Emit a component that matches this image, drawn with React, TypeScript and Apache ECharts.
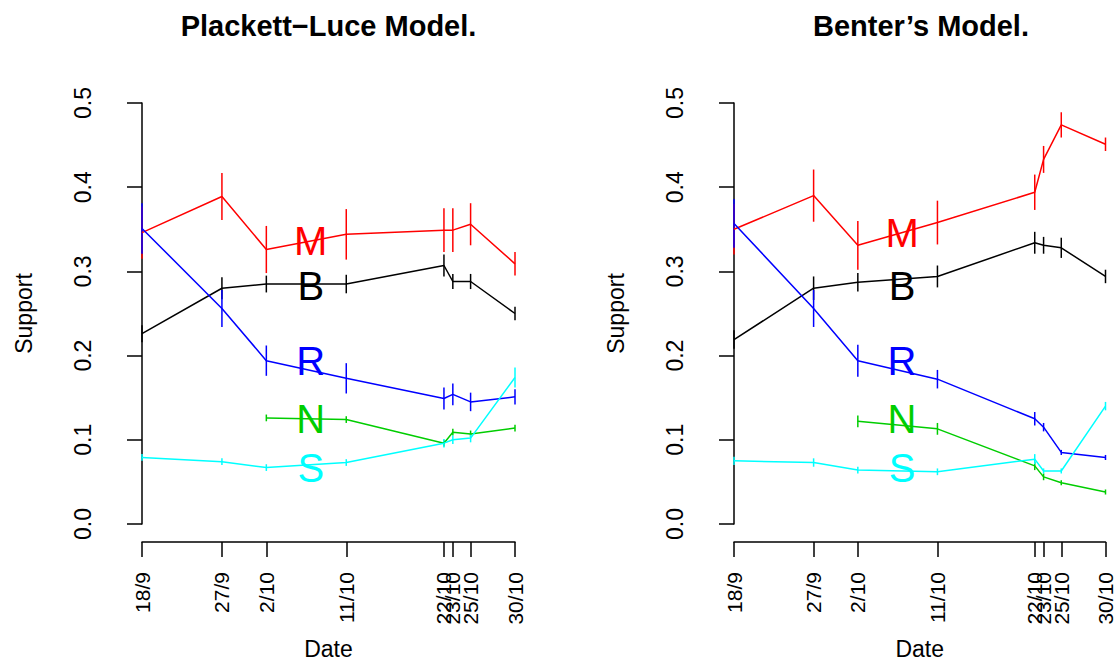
import React, { useEffect, useRef } from "react";
import * as echarts from "echarts";

// ---- data ----
const dateLabels = ["18/9", "27/9", "2/10", "11/10", "22/10", "23/10", "25/10", "30/10"];
const dateDays = [0, 9, 14, 23, 34, 35, 37, 42]; // days since 18/9
const yTickValues = [0, 0.1, 0.2, 0.3, 0.4, 0.5];
const yTickLabels = ["0.0", "0.1", "0.2", "0.3", "0.4", "0.5"];

const partyNames = ["M", "B", "R", "N", "S"];
const partyColors = ["#FF0000", "#000000", "#0000FF", "#00CD00", "#00FFFF"];

// Plackett-Luce model: support estimates and error half-widths
const plM = [0.346, 0.389, 0.326, 0.344, 0.349, 0.349, 0.356, 0.309];
const plMErr = [0.031, 0.028, 0.028, 0.030, 0.026, 0.026, 0.025, 0.014];
const plB = [0.226, 0.280, 0.285, 0.285, 0.307, 0.288, 0.288, 0.250];
const plBErr = [0.010, 0.013, 0.010, 0.011, 0.013, 0.009, 0.009, 0.008];
const plR = [0.351, 0.256, 0.194, 0.173, 0.149, 0.154, 0.145, 0.151];
const plRErr = [0.030, 0.022, 0.018, 0.018, 0.013, 0.013, 0.011, 0.009];
const plN = [null, null, 0.126, 0.124, 0.096, 0.109, 0.107, 0.114];
const plNErr = [null, null, 0.004, 0.004, 0.004, 0.004, 0.004, 0.004];
const plS = [0.079, 0.074, 0.067, 0.073, 0.096, 0.100, 0.102, 0.174];
const plSErr = [0.004, 0.004, 0.004, 0.004, 0.005, 0.005, 0.005, 0.012];

// Benter's model
const bnM = [0.350, 0.390, 0.331, 0.358, 0.394, 0.433, 0.474, 0.451];
const bnMErr = [0.030, 0.031, 0.029, 0.026, 0.021, 0.016, 0.015, 0.008];
const bnB = [0.219, 0.280, 0.287, 0.294, 0.334, 0.331, 0.328, 0.294];
const bnBErr = [0.011, 0.014, 0.011, 0.013, 0.013, 0.010, 0.012, 0.008];
const bnR = [0.357, 0.256, 0.194, 0.172, 0.125, 0.115, 0.085, 0.079];
const bnRErr = [0.029, 0.022, 0.019, 0.011, 0.008, 0.005, 0.003, 0.003];
const bnN = [null, null, 0.122, 0.113, 0.069, 0.056, 0.049, 0.038];
const bnNErr = [null, null, 0.007, 0.007, 0.005, 0.004, 0.003, 0.003];
const bnS = [0.075, 0.073, 0.064, 0.062, 0.077, 0.063, 0.063, 0.140];
const bnSErr = [0.005, 0.005, 0.004, 0.004, 0.006, 0.003, 0.003, 0.005];

// text annotations (data coordinates: day, support)
const labelDay = 19;
const plLabelY = [0.336, 0.283, 0.194, 0.125, 0.066];
const bnLabelY = [0.346, 0.283, 0.194, 0.125, 0.066];

const panelTitles = ["Plackett\u2212Luce Model.", "Benter\u2019s Model."];
const xAxisTitle = "Date";
const yAxisTitle = "Support";

const FONT = "'Liberation Sans', Arial, Helvetica, sans-serif";

const panels = [
  { vals: [plM, plB, plR, plN, plS], errs: [plMErr, plBErr, plRErr, plNErr, plSErr], labelY: plLabelY },
  { vals: [bnM, bnB, bnR, bnN, bnS], errs: [bnMErr, bnBErr, bnRErr, bnNErr, bnSErr], labelY: bnLabelY },
];

const gridLayout = [
  { left: 142, top: 103, width: 373, height: 425 },
  { left: 734, top: 103, width: 374, height: 425 },
];

function buildOption() {
  const grid = gridLayout.map((g) => ({ ...g, containLabel: false }));
  const xAxis = gridLayout.map((_, i) => ({
    gridIndex: i,
    type: "value",
    min: 0,
    max: 42,
    offset: 18,
    axisLine: { show: true, onZero: false, lineStyle: { color: "#000", width: 1.5 } },
    axisTick: { show: true, length: 15, customValues: dateDays, lineStyle: { color: "#000", width: 1.5 } },
    axisLabel: {
      show: true,
      customValues: dateDays,
      rotate: 90,
      margin: 30,
      fontSize: 21,
      fontFamily: FONT,
      color: "#000",
      formatter: (v: number) => dateLabels[dateDays.indexOf(v)] ?? "",
    },
    splitLine: { show: false },
    name: xAxisTitle,
    nameLocation: "middle",
    nameGap: 95,
    nameTextStyle: { fontSize: 23, fontFamily: FONT, color: "#000" },
  }));
  const yAxis = gridLayout.map((_, i) => ({
    gridIndex: i,
    type: "value",
    min: 0,
    max: 0.5,
    offset: 15,
    axisLine: { show: true, lineStyle: { color: "#000", width: 1.5 } },
    axisTick: { show: true, length: 15, customValues: yTickValues, lineStyle: { color: "#000", width: 1.5 } },
    axisLabel: {
      show: true,
      customValues: yTickValues,
      rotate: 90,
      margin: 33,
      fontSize: 23,
      fontFamily: FONT,
      color: "#000",
      formatter: (v: number) => {
        const k = yTickValues.findIndex((t) => Math.abs(t - v) < 1e-9);
        return k >= 0 ? yTickLabels[k] : "";
      },
    },
    splitLine: { show: false },
    name: yAxisTitle,
    nameLocation: "middle",
    nameGap: 92,
    nameTextStyle: { fontSize: 23, fontFamily: FONT, color: "#000" },
  }));

  const series: any[] = [];
  panels.forEach((p, pi) => {
    p.vals.forEach((vals, si) => {
      const color = partyColors[si];
      const pts: any[] = [];
      const bars: any[] = [];
      vals.forEach((v, k) => {
        if (v == null) return;
        const e = p.errs[si][k] as number;
        pts.push([dateDays[k], v]);
        bars.push([dateDays[k], v - e, v + e]);
      });
      series.push({
        type: "line",
        xAxisIndex: pi,
        yAxisIndex: pi,
        data: pts,
        symbol: "none",
        lineStyle: { color, width: 1.5 },
        silent: true,
      });
      series.push({
        type: "custom",
        xAxisIndex: pi,
        yAxisIndex: pi,
        data: bars,
        encode: { x: 0, y: [1, 2] },
        silent: true,
        renderItem: (params: any, api: any) => {
          const a = api.coord([api.value(0), api.value(1)]);
          const b = api.coord([api.value(0), api.value(2)]);
          return {
            type: "line",
            shape: { x1: a[0], y1: a[1], x2: b[0], y2: b[1] },
            style: { stroke: color, lineWidth: 1.5 },
          };
        },
      });
    });
    // letter annotations
    series.push({
      type: "custom",
      xAxisIndex: pi,
      yAxisIndex: pi,
      data: partyNames.map((n, si) => [labelDay, p.labelY[si], si]),
      encode: { x: 0, y: 1 },
      silent: true,
      z: 5,
      renderItem: (params: any, api: any) => {
        const c = api.coord([api.value(0), api.value(1)]);
        const si = api.value(2);
        return {
          type: "text",
          x: c[0],
          y: c[1],
          style: {
            text: partyNames[si],
            fill: partyColors[si],
            fontSize: 40,
            fontFamily: FONT,
            align: "center",
            verticalAlign: "middle",
          },
        };
      },
    });
  });

  const graphic = gridLayout.map((g, i) => ({
    type: "text",
    x: g.left - 15 + (g.width + 30) / 2,
    y: 26,
    silent: true,
    style: {
      text: panelTitles[i],
      fill: "#000",
      fontSize: 29,
      fontWeight: "bold",
      fontFamily: FONT,
      align: "center",
      verticalAlign: "middle",
    },
  }));

  return {
    animation: false,
    backgroundColor: "#ffffff",
    grid,
    xAxis,
    yAxis,
    series,
    graphic,
  };
}

export default function App() {
  const ref = useRef<HTMLDivElement>(null);
  useEffect(() => {
    if (!ref.current) return;
    const chart = echarts.init(ref.current, null, { renderer: "svg" });
    chart.setOption(buildOption() as any);
    return () => chart.dispose();
  }, []);
  return (
    <div
      ref={ref}
      style={{ position: "absolute", left: 0, top: 0, width: 1116, height: 665, background: "#fff" }}
    />
  );
}
